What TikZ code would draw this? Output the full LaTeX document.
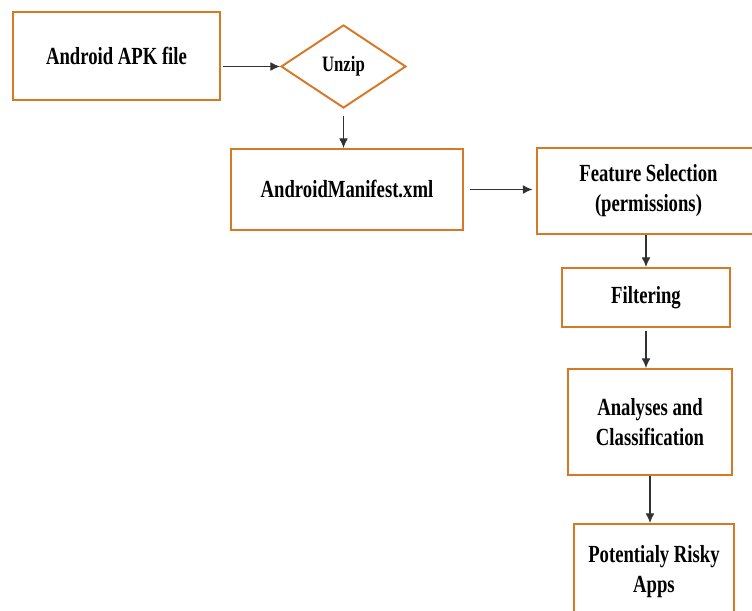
\documentclass[tikz,border=0pt]{standalone}
\usepackage{fontspec}
\setmainfont{Liberation Serif}[FakeStretch=0.76]
\usepackage{xcolor}
\usepackage{tikz}
\usetikzlibrary{arrows.meta, shapes.geometric}
\definecolor{boxorange}{RGB}{214,120,36}
\definecolor{linegray}{RGB}{50,50,50}
\tikzset{
    stagebox/.style={draw=boxorange, line width=1.1pt, fill=white, align=center, inner sep=0pt, font=\bfseries\fontsize{14}{17}\selectfont},
    decision/.style={diamond, draw=boxorange, line width=1.1pt, fill=white, inner sep=0pt, font=\bfseries\fontsize{12.5}{15}\selectfont},
    flow/.style={draw=linegray, line width=0.65pt, -{Latex[length=5.5pt, width=5pt]}}
}

\begin{document}
\begin{tikzpicture}[x=0.02cm, y=-0.02cm]
    \useasboundingbox (0,0) rectangle (752,610);
    \clip (0,0) rectangle (752,610);
    \node[stagebox, minimum width=4.14cm, minimum height=1.76cm] (apk) at (116.5,56) {Android APK file};
    \node[decision, minimum width=2.5cm, minimum height=1.66cm] (unzip) at (343.5,66.5) {Unzip};
    \node[stagebox, minimum width=4.64cm, minimum height=1.62cm] (manifest) at (347,189.5) {AndroidManifest.xml};
    \node[stagebox, minimum width=4.46cm, minimum height=1.72cm] (features) at (648.5,191) {Feature Selection\\(permissions)};
    \node[stagebox, minimum width=3.36cm, minimum height=1.18cm] (filtering) at (646,297.5) {Filtering};
    \node[stagebox, minimum width=3.28cm, minimum height=2.12cm] (analyses) at (650,422) {Analyses and\\Classification};
    \node[stagebox, minimum width=3.2cm, minimum height=1.92cm] (risky) at (654,572) {Potentialy Risky\\Apps};
    \draw[flow, shorten <=1pt] (apk.east |- unzip.west) -- (unzip.west);
    \draw[flow, shorten <=4pt] (unzip.south) -- (unzip.south |- manifest.north);
    \draw[flow, shorten <=3.5pt, shorten >=2pt] (manifest.east) -- (manifest.east -| features.west);
    \draw[flow] (features.south -| filtering.north) -- (filtering.north);
    \draw[flow, shorten <=1.5pt] (filtering.south) -- (filtering.south |- analyses.north);
    \draw[flow] (analyses.south) -- (analyses.south |- risky.north);
\end{tikzpicture}
\end{document}
